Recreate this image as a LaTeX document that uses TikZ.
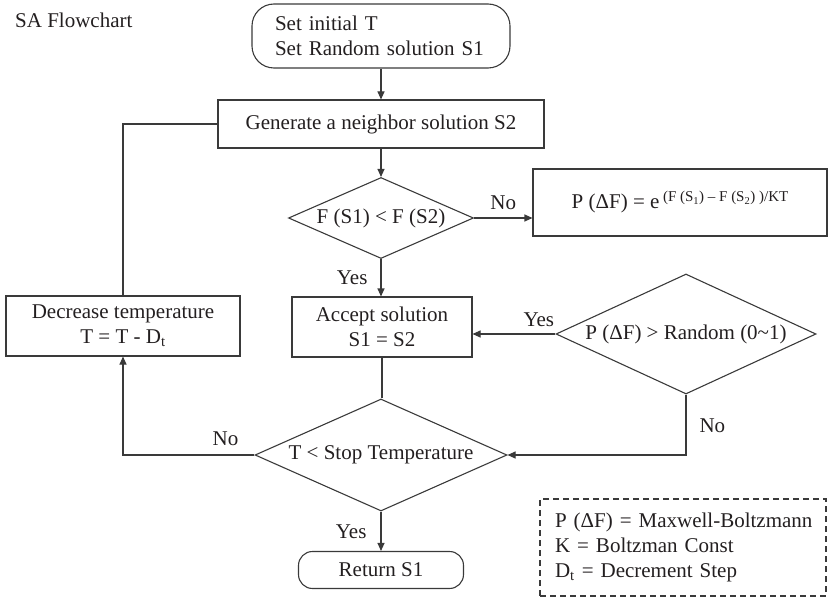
\documentclass[tikz,border=0pt]{standalone}
\usepackage{fontspec}
\setmainfont{Liberation Serif}
\usetikzlibrary{shapes.geometric,arrows.meta}
\definecolor{lnc}{HTML}{3A3A3A}
\definecolor{txc}{HTML}{231F20}
\begin{document}
\begin{tikzpicture}[x=1pt,y=-1pt,
  every node/.style={font=\fontsize{21}{25}\selectfont, text=txc},
  box/.style={draw=lnc, line width=1.1pt, rectangle, inner sep=0pt, align=center},
  dia/.style={draw=lnc, line width=1.1pt, diamond, inner sep=0pt},
  arr/.style={draw=lnc, line width=1.1pt, -{Triangle[length=8pt,width=7pt]}},
  conn/.style={draw=lnc, line width=1.1pt},
  lab/.style={inner sep=0pt}]
\useasboundingbox (0,0) rectangle (828,599);

\node[anchor=base west, inner sep=0pt] (title) at (15,28) {SA Flowchart};

\node[box, rounded corners=22pt, minimum width=258pt, minimum height=64pt,
      text width=212pt, align=left, inner xsep=23pt] (start) at (381,36)
      {Set initial T\\Set Random solution S1};
\node[box, minimum width=326pt, minimum height=48pt] (gen) at (381,124)
      {Generate a neighbor solution S2};
\node[dia, aspect=2.28, minimum width=185pt, minimum height=81pt] (d1) at (381,218)
      {F (S1) < F (S2)};
\node[box, minimum width=294pt, minimum height=67pt] (pbox) at (680,202.5)
      {P (ΔF) = e\,\raisebox{7pt}{\fontsize{15}{15}\selectfont (F (S\textsubscript{1}) – F (S\textsubscript{2}) )/KT}};
\node[box, minimum width=180pt, minimum height=60pt] (acc) at (382,327)
      {Accept solution\\S1 = S2};
\node[dia, aspect=2.17, minimum width=260pt, minimum height=120pt] (d2) at (686,334)
      {P (ΔF) > Random (0\textasciitilde 1)};
\node[box, minimum width=234pt, minimum height=60pt] (dec) at (123,326)
      {Decrease temperature\\T = T - D\textsubscript{t}};
\node[dia, aspect=2.25, minimum width=252pt, minimum height=112pt] (d3) at (381,455)
      {T < Stop Temperature};
\node[box, rounded corners=14pt, minimum width=165pt, minimum height=37pt] (ret) at (381,570)
      {Return S1};
\node[draw=lnc, line width=1.1pt, dash pattern=on 6pt off 4pt, rectangle,
      minimum width=286pt, minimum height=97pt, text width=262pt, inner xsep=12pt,
      inner ysep=0pt, align=left] (leg) at (683,547.5)
      {\hspace*{3pt}P (ΔF) = Maxwell-Boltzmann\\\hspace*{3pt}K = Boltzman Const\\\hspace*{3pt}D\textsubscript{t} = Decrement Step};

\draw[arr] (start.south) -- (start.south |- gen.north);
\draw[arr] (gen.south) -- (gen.south |- d1.north);
\draw[arr] (d1.east) -- (d1.east -| pbox.west)
      node[lab, midway, above=8pt] {No};
\draw[arr] (d1.south) -- (d1.south |- acc.north)
      node[lab, midway, left=13pt] {Yes};
\draw[arr] (d2.west) -- (d2.west -| acc.east)
      node[lab, pos=0.2, above=7pt] {Yes};
\draw[arr] (d2.south) |- (d3.east)
      node[lab, pos=0.26, right=13pt] {No};
\draw[conn] (acc.south) -- (acc.south |- d3.north);
\draw[arr] (d3.west) -| (dec.south)
      node[lab, pos=0.11, above=8.5pt] {No};
\draw[conn] (dec.north) |- (gen.west);
\draw[arr] (d3.south) -- (d3.south |- ret.north)
      node[lab, midway, left=14pt] {Yes};
\end{tikzpicture}
\end{document}
